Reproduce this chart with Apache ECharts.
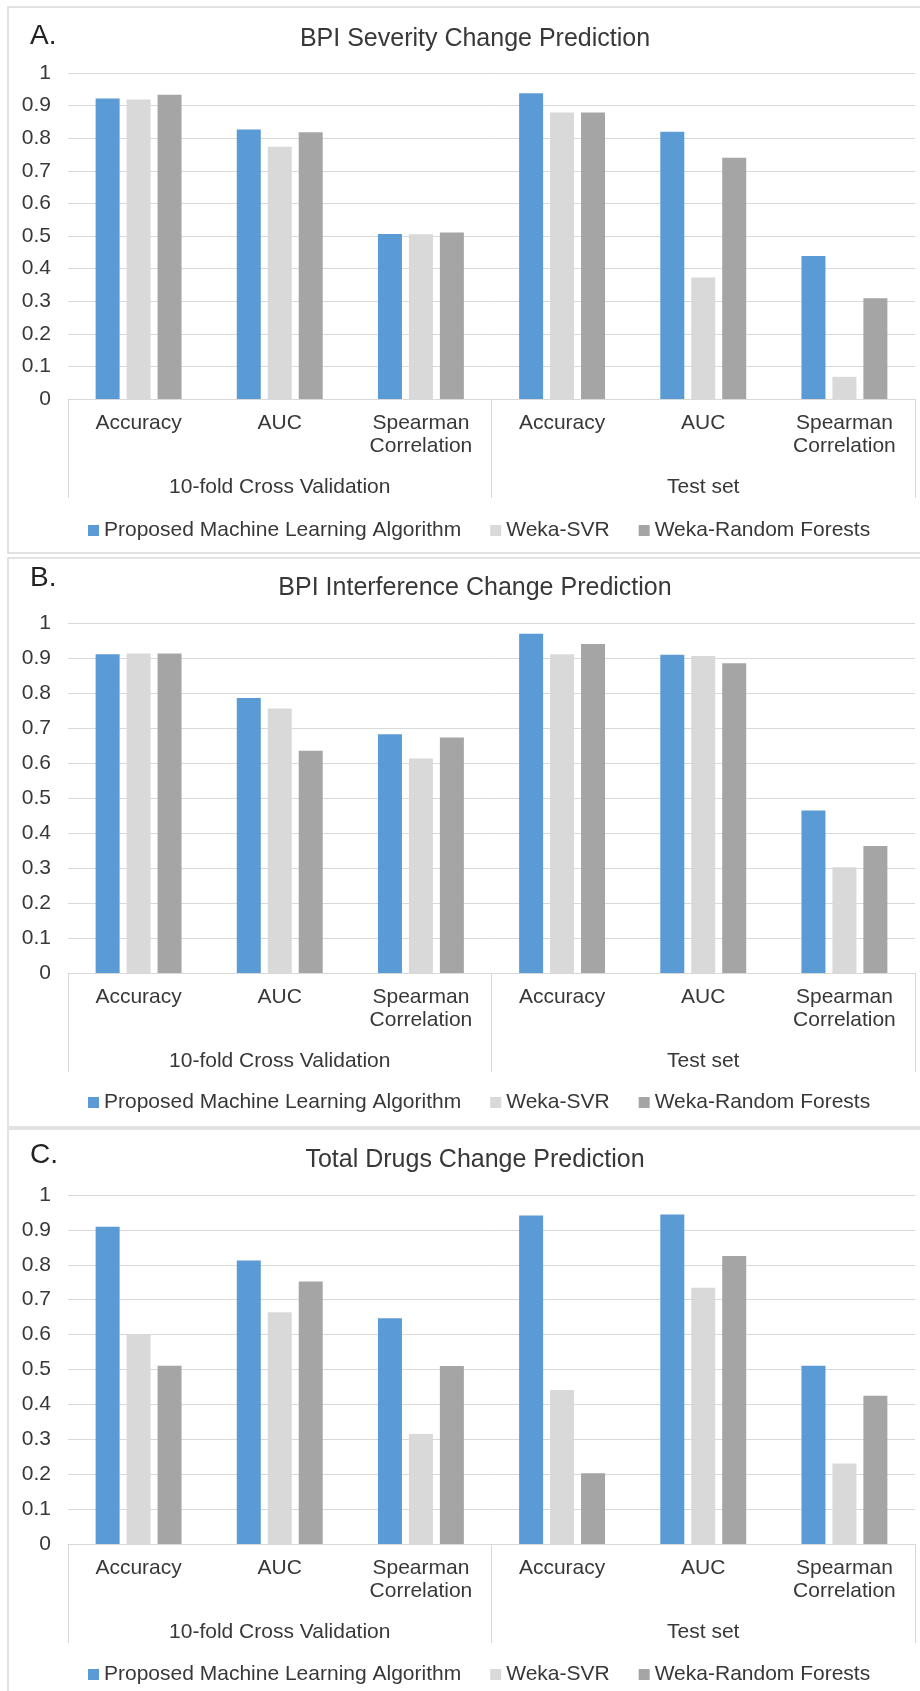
<!DOCTYPE html>
<html>
<head>
<meta charset="utf-8">
<title>Change Prediction Performance</title>
<script src="https://cdn.jsdelivr.net/npm/echarts@6/dist/echarts.min.js"></script>
<style>
  html, body { margin: 0; padding: 0; background: #ffffff; }
  #chart { width: 920px; height: 1691px; }
</style>
</head>
<body>
<div id="chart"></div>
<script>
// Category labels (inner level) and group labels (outer level)
const metrics = ['Accuracy', 'AUC', 'Spearman\nCorrelation', 'Accuracy', 'AUC', 'Spearman\nCorrelation'];
const groups = ['10-fold Cross Validation', 'Test set'];
const seriesNames = ['Proposed Machine Learning Algorithm', 'Weka-SVR', 'Weka-Random Forests'];
const seriesColors = ['#5B9BD5', '#D9D9D9', '#A5A5A5'];

// Panel titles
const panelLetters = ['A.', 'B.', 'C.'];
const panelTitles = ['BPI Severity Change Prediction', 'BPI Interference Change Prediction', 'Total Drugs Change Prediction'];

// Value axis
const yMin = 0;
const yMax = 1;
const yStep = 0.1;

// A. BPI severity change
const severityProposed = [0.922, 0.827, 0.506, 0.938, 0.820, 0.439];
const severitySVR      = [0.919, 0.774, 0.505, 0.879, 0.373, 0.068];
const severityRF       = [0.933, 0.818, 0.511, 0.879, 0.740, 0.309];

// B. BPI interference change
const interferenceProposed = [0.911, 0.786, 0.682, 0.969, 0.909, 0.464];
const interferenceSVR      = [0.913, 0.756, 0.613, 0.911, 0.906, 0.302];
const interferenceRF       = [0.913, 0.635, 0.673, 0.940, 0.885, 0.363];

// C. Total drugs change
const drugsProposed = [0.909, 0.812, 0.647, 0.941, 0.944, 0.511];
const drugsSVR      = [0.602, 0.664, 0.315, 0.441, 0.734, 0.231];
const drugsRF       = [0.511, 0.752, 0.510, 0.203, 0.825, 0.425];

const panelData = [
  [severityProposed, severitySVR, severityRF],
  [interferenceProposed, interferenceSVR, interferenceRF],
  [drugsProposed, drugsSVR, drugsRF]
];

// Layout of the three stacked panels (pixels)
const layout = [
  { frameTop: 7,    frameHeight: 546, gridTop: 73,   gridHeight: 326, letterY: 33,   titleY: 37,   legendY: 527 },
  { frameTop: 558,  frameHeight: 569, gridTop: 623,  gridHeight: 350, letterY: 575,  titleY: 586,  legendY: 1099 },
  { frameTop: 1129, frameHeight: 600, gridTop: 1195, gridHeight: 349, letterY: 1152, titleY: 1158, legendY: 1671 }
];

const FONT = '"Liberation Sans", Arial, sans-serif';
const TEXT = '#383838';
const LINE = '#d9d9d9';

const grids = [], xAxes = [], yAxes = [], series = [], titles = [], legends = [], frames = [];

layout.forEach((p, i) => {
  grids.push({ left: 68, right: 5, top: p.gridTop, height: p.gridHeight, containLabel: false });

  // inner category axis
  xAxes.push({
    type: 'category', gridIndex: i, data: metrics, position: 'bottom',
    axisLine: { show: true, lineStyle: { color: LINE, width: 1 } },
    axisTick: { show: false },
    axisLabel: { interval: 0, fontSize: 21, fontFamily: FONT, color: TEXT, margin: 13, lineHeight: 23, align: 'center' }
  });
  // outer group axis: its boundary ticks form the separators
  xAxes.push({
    type: 'category', gridIndex: i, data: groups, position: 'bottom',
    axisLine: { show: false },
    axisTick: { show: true, interval: 0, length: 99, lineStyle: { color: LINE, width: 1 } },
    axisLabel: { interval: 0, fontSize: 21, fontFamily: FONT, color: TEXT, margin: 78 }
  });

  yAxes.push({
    type: 'value', gridIndex: i, min: yMin, max: yMax, interval: yStep,
    axisLine: { show: false }, axisTick: { show: false },
    axisLabel: { fontSize: 21, fontFamily: FONT, color: TEXT, margin: 17 },
    splitLine: { show: true, lineStyle: { color: LINE, width: 1 } }
  });

  panelData[i].forEach((vals, s) => {
    series.push({
      type: 'bar', name: seriesNames[s], xAxisIndex: i * 2, yAxisIndex: i,
      data: vals, barWidth: 24, barGap: '29%',
      itemStyle: { color: seriesColors[s] },
      emphasis: { disabled: true }
    });
  });

  titles.push({
    text: panelLetters[i], left: 25, top: p.letterY - 16,
    textStyle: { fontSize: 28, fontWeight: 'normal', fontFamily: FONT, color: '#222' }
  });
  titles.push({
    text: panelTitles[i], left: 470, top: p.titleY - 15, textAlign: 'center',
    textStyle: { fontSize: 25, fontWeight: 'normal', fontFamily: FONT, color: TEXT }
  });

  legends.push({
    data: seriesNames, left: 83, top: p.legendY - 12, itemWidth: 11, itemHeight: 11, itemGap: 29,
    icon: 'rect', selectedMode: false,
    textStyle: { fontSize: 21, fontFamily: FONT, color: TEXT }
  });

  frames.push({
    type: 'rect', silent: true, z: -1,
    shape: { x: 8, y: p.frameTop, width: 930, height: p.frameHeight },
    style: { fill: 'none', stroke: LINE, lineWidth: 1.5 }
  });
});

const chart = echarts.init(document.getElementById('chart'), null, { renderer: 'canvas' });
chart.setOption({
  animation: false,
  backgroundColor: '#ffffff',
  title: titles,
  legend: legends,
  grid: grids,
  xAxis: xAxes,
  yAxis: yAxes,
  series: series,
  graphic: frames
});
</script>
</body>
</html>
